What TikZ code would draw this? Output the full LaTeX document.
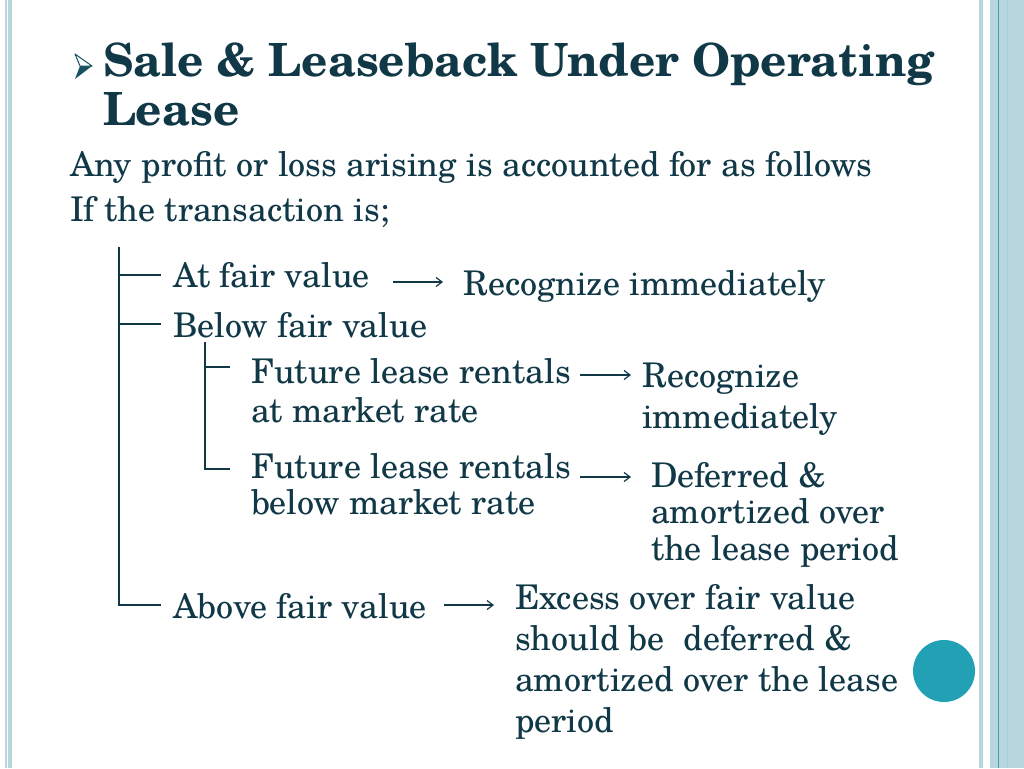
\documentclass[tikz,border=0pt]{standalone}
\usepackage{fontspec}
\setmainfont{texgyreschola}[Extension=.otf,UprightFont=*-regular,BoldFont=*-bold,ItalicFont=*-italic,BoldItalicFont=*-bolditalic]
\usetikzlibrary{arrows.meta}
\definecolor{ink}{RGB}{16,56,70}
\definecolor{barblue}{RGB}{183,214,222}
\definecolor{barline}{RGB}{70,160,180}
\definecolor{dotteal}{RGB}{34,160,180}
\definecolor{bullet}{RGB}{22,82,98}
\tikzset{
  txt/.style={anchor=base west,inner sep=0pt,outer sep=0pt,text=ink,font=\fontsize{34}{39}\selectfont,align=left},
  ttl/.style={anchor=base west,inner sep=0pt,outer sep=0pt,text=ink,font=\fontsize{45.7}{48}\bfseries\selectfont,align=left},
  tree/.style={draw=ink,line width=1.3pt},
  res/.style={draw=ink,line width=1.2pt,-{Straight Barb[length=6pt,width=9pt,line width=1.2pt]}}
}
\begin{document}
\begin{tikzpicture}[x=1pt,y=-1pt]
\useasboundingbox (0,0) rectangle (1024,768);
\fill[white] (0,0) rectangle (1024,768);
% left border
\fill[barblue] (5,0) rectangle (6.5,768);
\fill[barblue] (8,0) rectangle (12,768);
% right border
\fill[barblue] (979,0) rectangle (983,768);
\fill[barblue] (990,0) rectangle (1024,768);
\draw[barline,line width=0.8pt] (998,0) -- (998,768);
\draw[barline!50,line width=0.6pt] (1007.5,0) -- (1007.5,768);
% circle
\fill[dotteal] (944,671) circle (31);
% bullet
\fill[bullet] (80,66) -- (92,66) -- (75,79) -- cycle;
\filldraw[fill=white,draw=bullet,line width=1pt,line join=round] (75,54) -- (92,66) -- (80,66) -- cycle;
% title
\node[ttl] (t1) at (103,77) {Sale \& Leaseback Under Operating};
\node[ttl] (t2) at (103,125) {Lease};
\node[txt] (b1) at (70,176) {Any profit or loss arising is accounted for as follows};
\node[txt] (b2) at (70,221) {If the transaction is;};
% tree items
\node[txt] (fair) at (173,287) {At fair value};
\node[txt] (below) at (173,337) {Below fair value};
\node[txt] (mkt) at (251,422) {Future lease rentals\\at market rate};
\node[txt,font=\fontsize{34}{36}\selectfont] (bmkt) at (251,514) {Future lease rentals\\below market rate};
\node[txt] (above) at (173,618) {Above fair value};
% results
\node[txt] (r1) at (463,295) {Recognize immediately};
\node[txt,font=\fontsize{34}{41}\selectfont] (r2) at (642,428) {Recognize\\immediately};
\node[txt,font=\fontsize{34}{36.5}\selectfont] (r3) at (651,560) {Deferred \&\\amortized over\\the lease period};
\node[txt,font=\fontsize{34}{40.7}\selectfont] (r4) at (515,732) {Excess over fair value\\should be~ deferred \&\\amortized over the lease\\period};
% tree lines
\coordinate (vtop) at (119,247);
\coordinate (vbot) at (119,605);
\coordinate (h1) at (119,275);
\coordinate (h2) at (119,324);
\coordinate (h1e) at (161,275);
\coordinate (h2e) at (161,324);
\coordinate (h3e) at (161,605);
\draw[tree] (vtop) -- (vbot) -- (h3e);
\draw[tree] (h1) -- (h1e);
\draw[tree] (h2) -- (h2e);
\coordinate (itop) at (205,342);
\coordinate (ibot) at (205,469);
\coordinate (i1) at (205,367);
\coordinate (i1e) at (230,367);
\coordinate (i2e) at (230,469);
\draw[tree] (itop) -- (ibot) -- (i2e);
\draw[tree] (i1) -- (i1e);
% arrows
\coordinate (a1s) at (393,282); \coordinate (a1e) at (443,282);
\coordinate (a2s) at (580,375); \coordinate (a2e) at (631,375);
\coordinate (a3s) at (580,477); \coordinate (a3e) at (631,477);
\coordinate (a4s) at (444,605); \coordinate (a4e) at (494,605);
\draw[res] (a1s) -- (a1e);
\draw[res] (a2s) -- (a2e);
\draw[res] (a3s) -- (a3e);
\draw[res] (a4s) -- (a4e);
\end{tikzpicture}
\end{document}
